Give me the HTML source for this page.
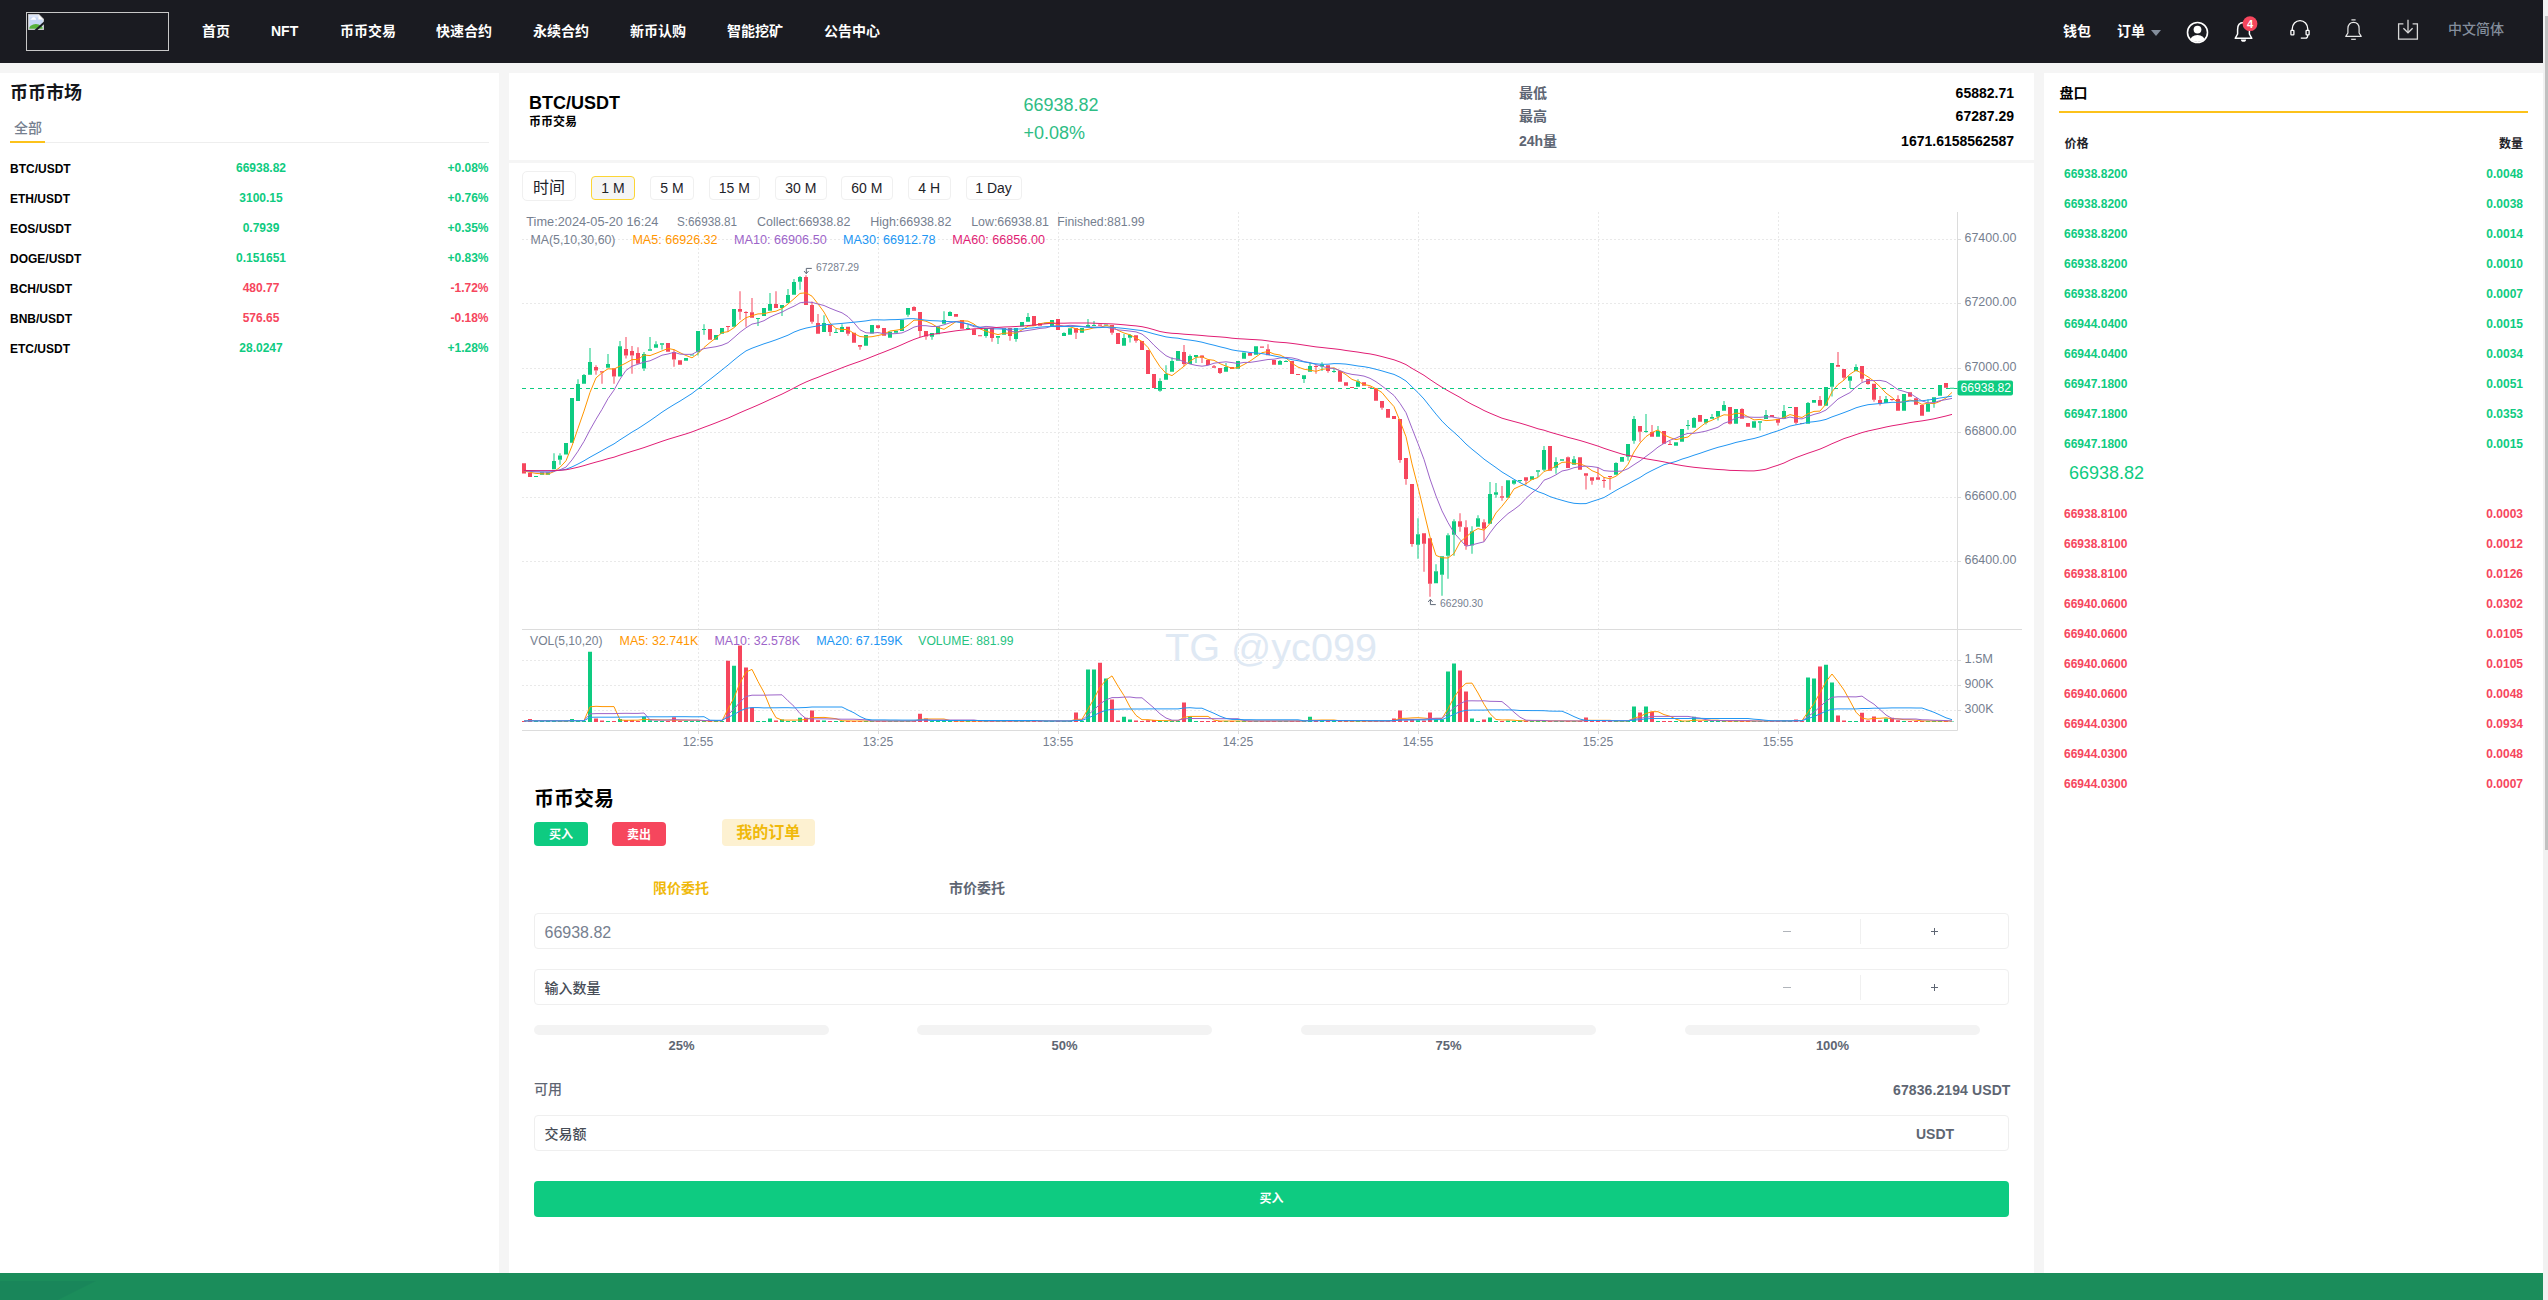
<!DOCTYPE html>
<html lang="zh-CN"><head><meta charset="utf-8"><title>BTC/USDT</title><style>
*{box-sizing:border-box;margin:0;padding:0}
html,body{width:2548px;height:1300px;overflow:hidden;background:#f5f5f5}
body{position:relative;font-family:"Liberation Sans","Noto Sans CJK SC",sans-serif;font-size:12px;color:#000}
.abs{position:absolute}
.t{position:absolute;white-space:nowrap;line-height:1}
.b{font-weight:bold}
.hdr{position:absolute;left:0;top:0;width:2543px;height:62.5px;background:#1a1b21}
.nav{position:absolute;top:24px;font-size:14px;font-weight:bold;color:#fff;white-space:nowrap;line-height:14px}
.panel{position:absolute;background:#fff}
.g{color:#0ecb81}.r{color:#f6465d}
.mk{position:absolute;left:0;width:499px;height:30px;font-size:12px;font-weight:bold;line-height:30px}
.mk span{position:absolute;top:0;white-space:nowrap}
.ob{position:absolute;left:2043px;width:500px;height:30px;font-size:12px;font-weight:bold;line-height:30px}
.ob span{position:absolute;top:0;white-space:nowrap}
.tb{position:absolute;top:176px;height:24px;border:1px solid #f0f0f0;border-radius:4px;font-size:12px;line-height:22px;text-align:center;color:#1e2329;background:#fff}
.inp{position:absolute;left:534px;width:1475px;height:36px;border:1px solid #efefef;border-radius:4px;background:#fff}
.bar{position:absolute;top:1025px;height:10px;width:295px;border-radius:5px;background:#f3f3f3}
.pct{position:absolute;top:1038.6px;width:295px;text-align:center;font-size:13px;font-weight:bold;color:#5e6673;line-height:14px}
</style></head><body>
<div class="hdr">
<div class="abs" style="left:26px;top:12px;width:143px;height:39px;border:1px solid #c8c8c8"></div>
<svg class="abs" style="left:28px;top:14px" width="16" height="16" viewBox="0 0 16 16"><defs><clipPath id="bi"><path d="M1.3 1.3H10.2V5.6H14.7V14.7H1.3z"/></clipPath></defs><path d="M0 0H11L16 5V16H0z" fill="#b9b9b9"/><path d="M0.8 0.8H10.6L15.2 5.4V15.2H0.8z" fill="#eef2fb"/><g clip-path="url(#bi)"><rect x="0" y="0" width="16" height="16" fill="#c6d6f4"/><rect x="0" y="0" width="16" height="3.4" fill="#dbe5f9"/><path d="M2.4 5.8Q2.4 4.6 3.8 4.6Q4.4 3 5.9 3.2Q7.4 3.2 7.6 4.6Q8.2 4.6 8.1 5.8z" fill="#fff"/><ellipse cx="7.9" cy="15.6" rx="7.4" ry="5.6" fill="#58b13a"/></g><path d="M10.5 0.6V5.4H15.3z" fill="#e9e9e9"/><path d="M10.9 1.6V5H14.3z" fill="#fff"/><path d="M6.9 17L17 8" stroke="#1a1b21" stroke-width="2"/></svg>
<div class="nav" style="left:202px">首页</div>
<div class="nav" style="left:271px">NFT</div>
<div class="nav" style="left:340px">币币交易</div>
<div class="nav" style="left:436px">快速合约</div>
<div class="nav" style="left:533px">永续合约</div>
<div class="nav" style="left:630px">新币认购</div>
<div class="nav" style="left:727px">智能挖矿</div>
<div class="nav" style="left:824px">公告中心</div>
<div class="nav" style="left:2063px">钱包</div>
<div class="nav" style="left:2117px">订单</div>
<div class="abs" style="left:2150.5px;top:29.5px;width:0;height:0;border-left:5px solid transparent;border-right:5px solid transparent;border-top:6.5px solid #848e9c"></div>
<svg class="abs" style="left:2186px;top:20.5px" width="23" height="23" viewBox="0 0 23 23"><defs><clipPath id="uc"><circle cx="11.5" cy="11.5" r="9.6"/></clipPath></defs><circle cx="11.5" cy="11.5" r="10" fill="none" stroke="#fff" stroke-width="1.6"/><circle cx="11.5" cy="8.6" r="3.9" fill="#fff"/><ellipse cx="11.5" cy="20.5" rx="7.6" ry="6.6" fill="#fff" clip-path="url(#uc)"/></svg>
<svg class="abs" style="left:2232px;top:14px" width="30" height="30" viewBox="0 0 30 30"><path d="M3.2 24.3 L5.6 20 V15.5 C5.6 11 8 8.6 11.5 8.6 C15 8.6 17.4 11 17.4 15.5 V20 L19.8 24.3 Z" fill="none" stroke="#fff" stroke-width="1.5" stroke-linejoin="round"/><path d="M8.9 25.4 H14.1 A2.6 2.4 0 0 1 8.9 25.4Z" fill="#fff"/><circle cx="18" cy="9.7" r="7.4" fill="#f6465d"/><text x="18" y="13.6" font-size="11" font-weight="bold" fill="#fff" text-anchor="middle" font-family="Liberation Sans, sans-serif">4</text></svg>
<svg class="abs" style="left:2288px;top:18px" width="24" height="24" viewBox="0 0 24 24" fill="none" stroke="#fff" stroke-width="1.3"><path d="M4.2 12.5 V11 A7.8 8.4 0 0 1 19.8 11 V12.5"/><rect x="2.9" y="12.3" width="3" height="4.6" rx="0.6"/><rect x="18.1" y="12.3" width="3" height="4.6" rx="0.6"/><path d="M19.6 17 V18 A2 2 0 0 1 17.6 20.2 H12.8" /></svg>
<svg class="abs" style="left:2341px;top:17px" width="25" height="25" viewBox="0 0 25 25" fill="none" stroke="#e8e8e8" stroke-width="1.2"><path d="M4.8 19.4 L6.9 16 V11.6 C6.9 7.6 9.3 5.4 12.5 5.4 C15.7 5.4 18.1 7.6 18.1 11.6 V16 L20.2 19.4 Z" stroke-linejoin="round"/><path d="M10.4 2.9 H14.6"/><path d="M10.2 22.3 H14.8"/></svg>
<svg class="abs" style="left:2395px;top:17px" width="26" height="26" viewBox="0 0 26 26" fill="none" stroke="#d8d8d8" stroke-width="1.3"><path d="M8.4 6.8 H3.6 V22.2 H22.4 V6.8 H17.6"/><path d="M13 2.8 V15.6"/><path d="M8.4 11.2 L13 15.8 L17.6 11.2"/></svg>
<div class="nav" style="left:2448px;top:21.5px;font-weight:500;color:#848e9c">中文简体</div>
</div>
<div class="panel" style="left:0;top:73px;width:499px;height:1200px"></div>
<div class="t" style="top:83.5px;font-size:18px;color:#14161a;height:18px;line-height:18px;font-weight:bold;left:10px;">币币市场</div>
<div class="t" style="top:120.8px;font-size:14px;color:#76808f;height:14px;line-height:14px;left:14px;font-weight:500;">全部</div>
<div class="abs" style="left:45px;top:142px;width:444px;height:1px;background:#eee"></div>
<div class="abs" style="left:10px;top:141px;width:35px;height:2px;background:#fcc21b"></div>
<div class="mk" style="top:153px"><span style="left:10px;top:0.5px">BTC/USDT</span><span class="g" style="left:161px;width:200px;text-align:center">66938.82</span><span class="g" style="right:10.5px">+0.08%</span></div>
<div class="mk" style="top:183px"><span style="left:10px;top:0.5px">ETH/USDT</span><span class="g" style="left:161px;width:200px;text-align:center">3100.15</span><span class="g" style="right:10.5px">+0.76%</span></div>
<div class="mk" style="top:213px"><span style="left:10px;top:0.5px">EOS/USDT</span><span class="g" style="left:161px;width:200px;text-align:center">0.7939</span><span class="g" style="right:10.5px">+0.35%</span></div>
<div class="mk" style="top:243px"><span style="left:10px;top:0.5px">DOGE/USDT</span><span class="g" style="left:161px;width:200px;text-align:center">0.151651</span><span class="g" style="right:10.5px">+0.83%</span></div>
<div class="mk" style="top:273px"><span style="left:10px;top:0.5px">BCH/USDT</span><span class="r" style="left:161px;width:200px;text-align:center">480.77</span><span class="r" style="right:10.5px">-1.72%</span></div>
<div class="mk" style="top:303px"><span style="left:10px;top:0.5px">BNB/USDT</span><span class="r" style="left:161px;width:200px;text-align:center">576.65</span><span class="r" style="right:10.5px">-0.18%</span></div>
<div class="mk" style="top:333px"><span style="left:10px;top:0.5px">ETC/USDT</span><span class="g" style="left:161px;width:200px;text-align:center">28.0247</span><span class="g" style="right:10.5px">+1.28%</span></div>
<div class="panel" style="left:509px;top:73px;width:1524.5px;height:87px"></div>
<div class="t" style="top:93.5px;font-size:18px;color:#000;height:18px;line-height:18px;font-weight:bold;left:529px;">BTC/USDT</div>
<div class="t" style="top:115.5px;font-size:12px;color:#000;height:12px;line-height:12px;font-weight:bold;left:529px;">币币交易</div>
<div class="t" style="top:95.5px;font-size:18px;color:#2ebd85;height:18px;line-height:18px;left:1023.5px;">66938.82</div>
<div class="t" style="top:123.5px;font-size:18px;color:#2ebd85;height:18px;line-height:18px;left:1023.5px;">+0.08%</div>
<div class="t" style="top:86.0px;font-size:14px;color:#5e6673;height:14px;line-height:14px;font-weight:bold;left:1519px;">最低</div>
<div class="t" style="top:86.0px;font-size:14px;color:#000;height:14px;line-height:14px;font-weight:bold;right:534px;">65882.71</div>
<div class="t" style="top:108.5px;font-size:14px;color:#5e6673;height:14px;line-height:14px;font-weight:bold;left:1519px;">最高</div>
<div class="t" style="top:108.5px;font-size:14px;color:#000;height:14px;line-height:14px;font-weight:bold;right:534px;">67287.29</div>
<div class="t" style="top:134.0px;font-size:14px;color:#5e6673;height:14px;line-height:14px;font-weight:bold;left:1519px;">24h量</div>
<div class="t" style="top:134.0px;font-size:14px;color:#000;height:14px;line-height:14px;font-weight:bold;right:534px;">1671.6158562587</div>
<div class="panel" style="left:509px;top:163px;width:1524.5px;height:1110px"></div>
<div class="tb" style="left:522px;top:171px;width:54px;height:30px;line-height:31px;font-size:16px;border-radius:5px">时间</div>
<div class="tb" style="left:591px;width:44px;font-size:14px;border-color:#fcd535;background:#f5f5f5;">1 M</div>
<div class="tb" style="left:650px;width:44px;font-size:14px;">5 M</div>
<div class="tb" style="left:709px;width:50.5px;font-size:14px;">15 M</div>
<div class="tb" style="left:775px;width:51.5px;font-size:14px;">30 M</div>
<div class="tb" style="left:841px;width:51.5px;font-size:14px;">60 M</div>
<div class="tb" style="left:908px;width:42.5px;font-size:14px;">4 H</div>
<div class="tb" style="left:965.5px;width:56px;font-size:14px;">1 Day</div>
<svg class="abs" style="left:509px;top:205px" width="1524" height="560" viewBox="509 205 1524 560" font-family="Liberation Sans, sans-serif">
<path d="M522 239.5H1957.5 M522 303.5H1957.5 M522 368.5H1957.5 M522 432.5H1957.5 M522 497.5H1957.5 M522 561.5H1957.5 M522 660.5H1957.5 M522 685.5H1957.5 M522 710.5H1957.5 M698.5 212V730 M878.5 212V730 M1058.5 212V730 M1238.5 212V730 M1418.5 212V730 M1598.5 212V730 M1778.5 212V730" stroke="#e9e9e9" stroke-width="1" stroke-dasharray="2 2" fill="none"/>
<path d="M522 629.5H2022 M522 730.5H1957.5 M1957.5 212V730.5" stroke="#dcdcdc" stroke-width="1" fill="none"/>
<path d="M698.5 730.5V734 M878.5 730.5V734 M1058.5 730.5V734 M1238.5 730.5V734 M1418.5 730.5V734 M1598.5 730.5V734 M1778.5 730.5V734 M1957.5 239.5h3.5 M1957.5 303.5h3.5 M1957.5 368.5h3.5 M1957.5 432.5h3.5 M1957.5 497.5h3.5 M1957.5 561.5h3.5 M1957.5 660.5h3.5 M1957.5 685.5h3.5 M1957.5 710.5h3.5" stroke="#dcdcdc" stroke-width="1" fill="none"/>
<text x="1165" y="661" font-size="39.5" fill="#dfe9f4" textLength="212" lengthAdjust="spacingAndGlyphs">TG @yc099</text>
<path d="M1933.5 402h1V407.8h-1zM1927.5 399.2h1V404h-1zM1885.5 396h1V399h-1zM1855.5 364.2h1V367h-1zM1849.5 380.8h1V388h-1zM1831.5 386.8h1V396.5h-1zM1807.5 402h1V403h-1zM1783.5 405h1V411h-1zM1765.5 410h1V415h-1zM1759.5 422.8h1V430.5h-1zM1723.5 401h1V405h-1zM1717.5 416.8h1V420.5h-1zM1711.5 414h1V417h-1zM1705.5 422.8h1V424.5h-1zM1693.5 417.2h1V418h-1zM1687.5 420h1V424.9h-1zM1687.5 425.9h1V429.8h-1zM1657.5 426h1V431h-1zM1645.5 414h1V431h-1zM1645.5 432h1V432.8h-1zM1633.5 416h1V419h-1zM1633.5 440.8h1V443.8h-1zM1627.5 456.8h1V460.8h-1zM1615.5 462.2h1V463h-1zM1573.5 456h1V459.2h-1zM1555.5 457.2h1V462h-1zM1555.5 467.8h1V473.8h-1zM1543.5 446h1V450h-1zM1543.5 469.8h1V471.2h-1zM1537.5 471.8h1V477.2h-1zM1519.5 481h1V482.8h-1zM1513.5 483.8h1V484.8h-1zM1495.5 483h1V492.2h-1zM1495.5 494.8h1V497.8h-1zM1489.5 482h1V494h-1zM1477.5 515.2h1V518.2h-1zM1471.5 526.2h1V531.2h-1zM1471.5 545.6h1V553.8h-1zM1453.5 519.2h1V521.2h-1zM1453.5 534.8h1V555.8h-1zM1447.5 533.2h1V535.2h-1zM1447.5 555.8h1V578.8h-1zM1441.5 574.8h1V595.8h-1zM1435.5 564.2h1V571.2h-1zM1417.5 518.2h1V534.2h-1zM1417.5 544.8h1V558.8h-1zM1357.5 379.2h1V381.2h-1zM1333.5 369h1V370.9h-1zM1333.5 371.9h1V372.8h-1zM1321.5 362.2h1V364.3h-1zM1321.5 366.6h1V370.9h-1zM1309.5 362.9h1V366h-1zM1303.5 378.9h1V382.9h-1zM1285.5 360.3h1V360.9h-1zM1279.5 360h1V361h-1zM1225.5 363.1h1V367.1h-1zM1195.5 356.9h1V362.9h-1zM1189.5 354.4h1V356h-1zM1171.5 357.2h1V361h-1zM1165.5 365.2h1V373.9h-1zM1159.5 378.2h1V381h-1zM1159.5 390.8h1V391.8h-1zM1129.5 334.1h1V334.9h-1zM1129.5 337.7h1V342.6h-1zM1123.5 334h1V338h-1zM1093.5 321h1V324.9h-1zM1087.5 319.1h1V325h-1zM1063.5 332.2h1V333h-1zM1027.5 313.1h1V317h-1zM1015.5 338.9h1V341.8h-1zM997.5 337.7h1V343.9h-1zM985.5 335.9h1V337.7h-1zM967.5 325h1V327.9h-1zM949.5 311.2h1V312h-1zM943.5 311.2h1V320h-1zM931.5 336.8h1V339.8h-1zM907.5 314.8h1V316.7h-1zM841.5 324.2h1V327h-1zM835.5 329.1h1V331.9h-1zM823.5 315.2h1V323h-1zM799.5 276.1h1V277.1h-1zM799.5 281.8h1V289.8h-1zM793.5 279.1h1V282h-1zM787.5 289.1h1V295h-1zM781.5 308h1V315.9h-1zM769.5 293.1h1V304.1h-1zM757.5 319h1V325.9h-1zM703.5 324.2h1V329.1h-1zM703.5 330.1h1V334.7h-1zM697.5 352h1V355.6h-1zM661.5 344.8h1V349.5h-1zM655.5 341.3h1V344.2h-1zM649.5 337.1h1V349.2h-1zM643.5 351.9h1V354h-1zM643.5 368.5h1V370.9h-1zM619.5 341h1V346.2h-1zM607.5 354h1V364.1h-1zM589.5 348h1V362h-1zM583.5 374h1V375h-1zM577.5 379.2h1V383.9h-1zM559.5 453.2h1V455.4h-1zM559.5 459.7h1V464.7h-1zM553.5 453.2h1V460.9h-1z" fill="#0ecb81"/>
<path d="M1897.5 395.2h1V399h-1zM1891.5 400h1V400.8h-1zM1879.5 396h1V400h-1zM1879.5 404h1V405.5h-1zM1873.5 399.8h1V401.8h-1zM1867.5 384h1V384.8h-1zM1861.5 378.8h1V381.8h-1zM1843.5 377.8h1V380h-1zM1837.5 352h1V365h-1zM1819.5 396h1V400h-1zM1795.5 422.8h1V424.8h-1zM1777.5 422.8h1V425.5h-1zM1741.5 408.2h1V409h-1zM1729.5 423.8h1V424.5h-1zM1669.5 441h1V443.9h-1zM1651.5 425h1V432h-1zM1639.5 431.8h1V441.8h-1zM1609.5 476.9h1V489.7h-1zM1603.5 477h1V479.9h-1zM1603.5 480.9h1V487.7h-1zM1597.5 467.2h1V477.2h-1zM1591.5 480.8h1V484.8h-1zM1585.5 475.8h1V489.6h-1zM1567.5 456.4h1V457.2h-1zM1525.5 480.8h1V484.4h-1zM1501.5 486h1V496.2h-1zM1501.5 497.8h1V500.8h-1zM1483.5 519.2h1V522.2h-1zM1483.5 528.8h1V541.6h-1zM1465.5 520.2h1V527.2h-1zM1465.5 545.8h1V549.8h-1zM1459.5 513.2h1V521.2h-1zM1459.5 526.8h1V531.8h-1zM1429.5 583.8h1V596.8h-1zM1423.5 543.8h1V571.8h-1zM1411.5 543.9h1V546.8h-1zM1405.5 478.9h1V484.7h-1zM1399.5 459.9h1V462.8h-1zM1381.5 407.7h1V409.8h-1zM1327.5 370.9h1V372.7h-1zM1315.5 365.2h1V365.9h-1zM1315.5 366.9h1V373.7h-1zM1267.5 344.3h1V349.2h-1zM1219.5 372.9h1V373.9h-1zM1213.5 365h1V366.2h-1zM1201.5 355h1V355.6h-1zM1201.5 357.7h1V362.9h-1zM1183.5 345h1V352h-1zM1183.5 364h1V366.2h-1zM1135.5 340.8h1V342.7h-1zM1111.5 332.8h1V334.7h-1zM1075.5 332.8h1V338.9h-1zM1009.5 335.9h1V340.8h-1zM991.5 337.9h1V341.8h-1zM925.5 336.6h1V339.8h-1zM919.5 330.9h1V336.9h-1zM913.5 306.3h1V307.1h-1zM877.5 327.9h1V328.7h-1zM859.5 346.8h1V349.8h-1zM847.5 333.8h1V335.7h-1zM829.5 331.9h1V335.9h-1zM817.5 314.1h1V323h-1zM811.5 301.4h1V305h-1zM811.5 321.8h1V323.7h-1zM805.5 275.2h1V277.1h-1zM775.5 291.2h1V304.1h-1zM751.5 298.1h1V312.2h-1zM745.5 311.2h1V311.9h-1zM745.5 312.9h1V326.8h-1zM739.5 291.2h1V309.1h-1zM739.5 311.7h1V319.7h-1zM727.5 327h1V331.9h-1zM673.5 349.5h1V351.9h-1zM673.5 359.6h1V366.7h-1zM637.5 347.2h1V353.1h-1zM631.5 346h1V351.1h-1zM631.5 355.5h1V373.8h-1zM625.5 337.1h1V349h-1zM625.5 355.5h1V358.4h-1zM613.5 376.6h1V383.7h-1zM601.5 372.4h1V383.7h-1zM595.5 365.3h1V367.1h-1zM595.5 370.6h1V374.8h-1z" fill="#f6465d"/>
<path d="M1950 387.8h4V388.8h-4zM1938 385h4V395.8h-4zM1932 397.2h4V402h-4zM1926 404h4V411.8h-4zM1902 394h4V410.8h-4zM1884 399h4V403h-4zM1854 367h4V371.2h-4zM1848 376.2h4V380.8h-4zM1830 363h4V386.8h-4zM1824 387h4V405.8h-4zM1812 400h4V402.8h-4zM1806 403h4V423.8h-4zM1788 406.9h4V407.9h-4zM1782 411h4V418.4h-4zM1764 415h4V419h-4zM1758 421.2h4V422.8h-4zM1752 421.2h4V427.8h-4zM1734 409h4V423.8h-4zM1722 405h4V410.8h-4zM1716 411h4V416.8h-4zM1710 417h4V418.8h-4zM1704 419h4V422.8h-4zM1692 418h4V427.8h-4zM1686 424.9h4V425.9h-4zM1680 429h4V441.8h-4zM1674 442.2h4V445.8h-4zM1656 431h4V436.8h-4zM1644 431h4V432h-4zM1632 419h4V440.8h-4zM1626 444h4V456.8h-4zM1620 457h4V461.8h-4zM1614 463h4V474.8h-4zM1572 459.2h4V464.8h-4zM1560 459.2h4V460.8h-4zM1554 462h4V467.8h-4zM1542 450h4V469.8h-4zM1536 470.2h4V471.8h-4zM1530 476.2h4V479.8h-4zM1518 480h4V481h-4zM1512 480.2h4V483.8h-4zM1506 480.2h4V497.8h-4zM1494 492.2h4V494.8h-4zM1488 494h4V523.8h-4zM1476 518.2h4V526.8h-4zM1470 531.2h4V545.6h-4zM1452 521.2h4V534.8h-4zM1446 535.2h4V555.8h-4zM1440 556.2h4V574.8h-4zM1434 571.2h4V583.2h-4zM1416 534.2h4V544.8h-4zM1356 381.2h4V386.7h-4zM1332 370.9h4V371.9h-4zM1320 364.3h4V366.6h-4zM1308 366h4V371.8h-4zM1302 375.3h4V378.9h-4zM1284 360.9h4V361.9h-4zM1278 361h4V364.7h-4zM1254 346.2h4V354.8h-4zM1242 352.5h4V358.8h-4zM1236 361h4V368.8h-4zM1224 367.1h4V371.8h-4zM1194 355h4V356.9h-4zM1188 356h4V364.1h-4zM1176 351.1h4V360.7h-4zM1170 361h4V371.8h-4zM1164 373.9h4V379.8h-4zM1158 381h4V390.8h-4zM1128 334.9h4V337.7h-4zM1122 338h4V345.8h-4zM1104 324.5h4V325.5h-4zM1092 324.9h4V325.9h-4zM1086 325h4V327h-4zM1080 327.9h4V332.8h-4zM1068 328.3h4V334.7h-4zM1062 333h4V335.9h-4zM1050 320h4V326.4h-4zM1044 322.8h4V323.8h-4zM1026 317h4V321.7h-4zM1020 322h4V326.4h-4zM1014 327.9h4V338.9h-4zM1002 327.9h4V334.7h-4zM996 335.9h4V337.7h-4zM984 327.9h4V335.9h-4zM966 327.9h4V328.9h-4zM948 312h4V315.9h-4zM942 320h4V323.8h-4zM936 326.2h4V334.2h-4zM930 333h4V336.8h-4zM906 308h4V314.8h-4zM900 319.8h4V330.9h-4zM894 330.8h4V332.8h-4zM888 331.7h4V337.8h-4zM870 324.9h4V333.4h-4zM864 335h4V345.8h-4zM840 327h4V331.9h-4zM834 331.9h4V332.9h-4zM822 323h4V331.9h-4zM798 277.1h4V281.8h-4zM792 282h4V294.8h-4zM786 295h4V303h-4zM780 305h4V308h-4zM768 304.1h4V310.8h-4zM762 308h4V315.9h-4zM756 318h4V319h-4zM732 309.1h4V326.8h-4zM720 327.9h4V333.8h-4zM714 335h4V339.7h-4zM702 329.1h4V330.1h-4zM696 331.1h4V352h-4zM690 354.6h4V355.6h-4zM684 358.1h4V360.8h-4zM660 343.3h4V344.8h-4zM654 344.2h4V347.8h-4zM648 349.2h4V350.7h-4zM642 354h4V368.5h-4zM618 346.2h4V376.6h-4zM606 364.1h4V367.7h-4zM588 362h4V374.8h-4zM582 375h4V383.7h-4zM576 383.9h4V400.9h-4zM570 398.1h4V442.8h-4zM564 443.1h4V454.6h-4zM558 455.4h4V459.7h-4zM552 460.9h4V469.2h-4zM546 472.2h4V474.8h-4zM540 472.2h4V474.8h-4zM534 475.9h4V476.9h-4zM1950 721.4h4V722h-4zM1938 721h4V722h-4zM1932 721h4V722h-4zM1926 721h4V722h-4zM1902 721h4V722h-4zM1884 718.6h4V722h-4zM1854 721h4V722h-4zM1848 721h4V722h-4zM1830 682.6h4V722h-4zM1824 664.8h4V722h-4zM1812 678.6h4V722h-4zM1806 677.6h4V722h-4zM1788 721h4V722h-4zM1782 720.6h4V722h-4zM1764 721h4V722h-4zM1758 721h4V722h-4zM1752 721h4V722h-4zM1734 721h4V722h-4zM1722 721h4V722h-4zM1716 721h4V722h-4zM1710 721h4V722h-4zM1704 721h4V722h-4zM1692 716.8h4V722h-4zM1686 721h4V722h-4zM1680 721h4V722h-4zM1674 721h4V722h-4zM1656 721h4V722h-4zM1644 706.6h4V722h-4zM1632 706.6h4V722h-4zM1626 721h4V722h-4zM1620 721h4V722h-4zM1614 721h4V722h-4zM1572 721h4V722h-4zM1560 721h4V722h-4zM1554 721h4V722h-4zM1542 721h4V722h-4zM1536 720.6h4V722h-4zM1530 721h4V722h-4zM1518 720.6h4V722h-4zM1512 721h4V722h-4zM1506 720.6h4V722h-4zM1494 721h4V722h-4zM1488 717.5h4V722h-4zM1476 721h4V722h-4zM1470 718.6h4V722h-4zM1452 663.5h4V722h-4zM1446 671.6h4V722h-4zM1440 719.6h4V722h-4zM1434 719.6h4V722h-4zM1416 720.3h4V722h-4zM1356 721h4V722h-4zM1332 721h4V722h-4zM1320 720h4V722h-4zM1308 716.8h4V722h-4zM1302 721h4V722h-4zM1284 721h4V722h-4zM1278 721h4V722h-4zM1254 721h4V722h-4zM1242 721h4V722h-4zM1236 721h4V722h-4zM1224 721h4V722h-4zM1194 721h4V722h-4zM1188 716.5h4V722h-4zM1176 721h4V722h-4zM1170 721h4V722h-4zM1164 721h4V722h-4zM1158 721h4V722h-4zM1128 719.6h4V722h-4zM1122 716.8h4V722h-4zM1104 678.6h4V722h-4zM1092 669.4h4V722h-4zM1086 669.4h4V722h-4zM1080 721h4V722h-4zM1068 721h4V722h-4zM1062 721h4V722h-4zM1050 721h4V722h-4zM1044 721h4V722h-4zM1026 721h4V722h-4zM1020 721h4V722h-4zM1014 720.6h4V722h-4zM1002 721h4V722h-4zM996 721h4V722h-4zM984 721h4V722h-4zM966 721h4V722h-4zM948 721h4V722h-4zM942 721h4V722h-4zM936 721h4V722h-4zM930 721h4V722h-4zM906 721h4V722h-4zM900 721h4V722h-4zM894 721h4V722h-4zM888 721h4V722h-4zM870 721h4V722h-4zM864 721h4V722h-4zM840 721h4V722h-4zM834 721h4V722h-4zM822 720.6h4V722h-4zM798 717.8h4V722h-4zM792 721h4V722h-4zM786 721h4V722h-4zM780 719.6h4V722h-4zM768 718.5h4V722h-4zM762 721h4V722h-4zM756 721h4V722h-4zM732 665.7h4V722h-4zM720 721h4V722h-4zM714 721h4V722h-4zM702 720.6h4V722h-4zM696 721h4V722h-4zM690 721h4V722h-4zM684 721h4V722h-4zM660 721h4V722h-4zM654 721h4V722h-4zM648 720.3h4V722h-4zM642 716.8h4V722h-4zM618 718.9h4V722h-4zM606 721h4V722h-4zM588 651.8h4V722h-4zM582 721h4V722h-4zM576 721h4V722h-4zM570 719h4V722h-4zM564 721h4V722h-4zM558 721h4V722h-4zM552 721h4V722h-4zM546 721h4V722h-4zM540 721h4V722h-4zM534 721h4V722h-4z" fill="#0ecb81"/>
<path d="M1944 383h4V387.8h-4zM1920 405h4V415.8h-4zM1914 398.3h4V404.8h-4zM1908 392.2h4V396.8h-4zM1896 399h4V410.8h-4zM1890 399h4V400h-4zM1878 400h4V404h-4zM1872 383.8h4V399.8h-4zM1866 379h4V384h-4zM1860 366h4V378.8h-4zM1842 369h4V377.8h-4zM1836 365h4V366.8h-4zM1818 400h4V405.8h-4zM1800 423h4V424h-4zM1794 407h4V422.8h-4zM1776 419h4V422.8h-4zM1770 415h4V417h-4zM1746 423h4V426.8h-4zM1740 409h4V418.8h-4zM1728 407h4V423.8h-4zM1698 415h4V421.8h-4zM1668 443.9h4V444.9h-4zM1662 431h4V443.8h-4zM1650 432h4V436.8h-4zM1638 426h4V431.8h-4zM1608 475.9h4V476.9h-4zM1602 479.9h4V480.9h-4zM1596 477.2h4V479.8h-4zM1590 477.2h4V480.8h-4zM1584 473.2h4V475.8h-4zM1578 457.2h4V469.8h-4zM1566 457.2h4V468h-4zM1548 446h4V470.8h-4zM1524 477.2h4V480.8h-4zM1500 496.2h4V497.8h-4zM1482 522.2h4V528.8h-4zM1464 527.2h4V545.8h-4zM1458 521.2h4V526.8h-4zM1428 538.2h4V583.8h-4zM1422 533.2h4V543.8h-4zM1410 484h4V543.9h-4zM1404 458h4V478.9h-4zM1398 419h4V459.9h-4zM1392 416h4V419h-4zM1386 409h4V417.8h-4zM1380 401h4V407.7h-4zM1374 388.3h4V400.7h-4zM1368 386.8h4V387.8h-4zM1362 382.2h4V385.7h-4zM1350 387h4V388h-4zM1344 382.2h4V385.7h-4zM1338 370.9h4V381.7h-4zM1326 365.2h4V370.9h-4zM1314 365.9h4V366.9h-4zM1296 373.9h4V374.9h-4zM1290 361h4V373.9h-4zM1272 360h4V364.7h-4zM1266 349.2h4V355.3h-4zM1260 346.6h4V347.8h-4zM1248 353h4V355.8h-4zM1230 367.1h4V369h-4zM1218 368h4V372.9h-4zM1212 366.2h4V367.8h-4zM1206 360h4V364.9h-4zM1200 355.6h4V357.7h-4zM1182 352h4V364h-4zM1152 373.9h4V388h-4zM1146 350h4V373.9h-4zM1140 340.9h4V349.9h-4zM1134 335.3h4V340.8h-4zM1116 333h4V343.9h-4zM1110 325h4V332.8h-4zM1098 324.6h4V325.7h-4zM1074 327.9h4V332.8h-4zM1056 319.1h4V329.9h-4zM1038 323.1h4V325.7h-4zM1032 316.1h4V326h-4zM1008 327.9h4V335.9h-4zM990 327.9h4V337.9h-4zM978 335.2h4V336.3h-4zM972 329.3h4V334.9h-4zM960 320h4V328.8h-4zM954 314h4V316.8h-4zM924 331.1h4V336.6h-4zM918 312.1h4V330.9h-4zM912 307.1h4V310.8h-4zM882 327.9h4V335.7h-4zM876 325.3h4V327.9h-4zM858 344.9h4V346.8h-4zM852 332.8h4V342.8h-4zM846 326.8h4V333.8h-4zM828 324.9h4V331.9h-4zM816 323h4V333.8h-4zM810 305h4V321.8h-4zM804 277.1h4V304.9h-4zM774 304.1h4V307.9h-4zM750 312.2h4V317.8h-4zM744 311.9h4V312.9h-4zM738 309.1h4V311.7h-4zM726 326h4V327h-4zM708 329.1h4V339.7h-4zM678 360.2h4V364.7h-4zM672 351.9h4V359.6h-4zM666 343h4V351.7h-4zM636 353.1h4V363.8h-4zM630 351.1h4V355.5h-4zM624 349h4V355.5h-4zM612 368.3h4V376.6h-4zM600 371.2h4V372.4h-4zM594 367.1h4V370.6h-4zM528 472.8h4V476.9h-4zM522 463.3h4V473.4h-4zM1944 721h4V722h-4zM1920 721h4V722h-4zM1914 721h4V722h-4zM1908 721h4V722h-4zM1896 720.3h4V722h-4zM1890 717.8h4V722h-4zM1878 720.6h4V722h-4zM1872 716.5h4V722h-4zM1866 720.6h4V722h-4zM1860 712.8h4V722h-4zM1842 720.6h4V722h-4zM1836 715.6h4V722h-4zM1818 666.6h4V722h-4zM1800 721h4V722h-4zM1794 719.6h4V722h-4zM1776 721h4V722h-4zM1770 721h4V722h-4zM1746 721h4V722h-4zM1740 721h4V722h-4zM1728 721h4V722h-4zM1698 721h4V722h-4zM1668 721h4V722h-4zM1662 721h4V722h-4zM1650 711.8h4V722h-4zM1638 712.5h4V722h-4zM1608 721h4V722h-4zM1602 721h4V722h-4zM1596 721h4V722h-4zM1590 721h4V722h-4zM1584 717.5h4V722h-4zM1578 721h4V722h-4zM1566 721h4V722h-4zM1548 721h4V722h-4zM1524 721h4V722h-4zM1500 721h4V722h-4zM1482 719.6h4V722h-4zM1464 691.6h4V722h-4zM1458 670.4h4V722h-4zM1428 712.5h4V722h-4zM1422 720.6h4V722h-4zM1410 718.9h4V722h-4zM1404 720.5h4V722h-4zM1398 710.4h4V722h-4zM1392 718.6h4V722h-4zM1386 721h4V722h-4zM1380 721h4V722h-4zM1374 721h4V722h-4zM1368 721h4V722h-4zM1362 721h4V722h-4zM1350 721h4V722h-4zM1344 721h4V722h-4zM1338 721h4V722h-4zM1326 721h4V722h-4zM1314 721h4V722h-4zM1296 721h4V722h-4zM1290 721h4V722h-4zM1272 721h4V722h-4zM1266 721h4V722h-4zM1260 721h4V722h-4zM1248 721h4V722h-4zM1230 721h4V722h-4zM1218 721h4V722h-4zM1212 721h4V722h-4zM1206 721h4V722h-4zM1200 721h4V722h-4zM1182 702.4h4V722h-4zM1152 720h4V722h-4zM1146 720.3h4V722h-4zM1140 721h4V722h-4zM1134 720.6h4V722h-4zM1116 720.6h4V722h-4zM1110 699.5h4V722h-4zM1098 662.7h4V722h-4zM1074 712.5h4V722h-4zM1056 721h4V722h-4zM1038 721h4V722h-4zM1032 720.6h4V722h-4zM1008 721h4V722h-4zM990 721h4V722h-4zM978 721h4V722h-4zM972 721h4V722h-4zM960 721h4V722h-4zM954 721h4V722h-4zM924 718.5h4V722h-4zM918 713.7h4V722h-4zM912 721h4V722h-4zM882 721h4V722h-4zM876 721h4V722h-4zM858 721h4V722h-4zM852 721h4V722h-4zM846 721h4V722h-4zM828 721h4V722h-4zM816 720.3h4V722h-4zM810 710.4h4V722h-4zM804 717.8h4V722h-4zM774 720.6h4V722h-4zM750 707.6h4V722h-4zM744 667.6h4V722h-4zM738 645.5h4V722h-4zM726 660.7h4V722h-4zM708 721h4V722h-4zM678 721h4V722h-4zM672 717.2h4V722h-4zM666 721h4V722h-4zM636 721h4V722h-4zM630 720h4V722h-4zM624 720h4V722h-4zM612 721h4V722h-4zM600 720.6h4V722h-4zM594 718.5h4V722h-4zM528 718.9h4V722h-4zM522 721h4V722h-4z" fill="#f6465d"/>
<polyline points="524,471 530,472.3 536,473.4 542,473.8 548,474.1 554,471.6 560,467.3 566,460.8 572,445.9 578,428.3 584,411.1 590,392.4 596,377.9 602,372.8 608,368.8 614,369.1 620,366 626,363 632,359.6 638,359.5 644,355 650,355.6 656,353.3 662,350.9 668,348.5 674,349.6 680,352.7 686,355.5 692,357.8 698,353.6 704,347.5 710,342.5 716,337.9 722,332.6 728,331.7 734,327.7 740,322.1 746,317.7 752,315.7 758,313.9 764,313.7 770,312.2 776,311.2 782,308.6 788,304 794,298.8 800,293.4 806,292.8 812,296.2 818,303.9 824,312.1 830,323.1 836,328.5 842,329.5 848,329.5 854,333.5 860,336.5 866,337.1 872,336.7 878,335.5 884,334.1 890,331 896,330.2 902,329.2 908,325.2 914,320.2 920,320.1 926,321.2 932,323.9 938,327.5 944,329.3 950,325.6 956,321.6 962,320.8 968,321.1 974,324.1 980,328.9 986,331.2 992,333 998,334.6 1004,333.2 1010,333.1 1016,333.1 1022,329.9 1028,326.1 1034,325.8 1040,323.7 1046,322.7 1052,322.3 1058,324.9 1064,326.3 1070,326.8 1076,328.8 1082,330.4 1088,329.4 1094,327.8 1100,327.3 1106,325.6 1112,326.6 1118,330.4 1124,333 1130,334.8 1136,338.1 1142,341.5 1148,347.5 1154,357.5 1160,366.7 1166,373.3 1172,375.6 1178,371 1184,366.2 1190,361.2 1196,357.4 1202,356.8 1208,359.5 1214,360.3 1220,363.7 1226,366.1 1232,368.3 1238,367.6 1244,364.5 1250,361.1 1256,356.9 1262,352.7 1268,351.5 1274,354 1280,355 1286,358 1292,363.2 1298,367.1 1304,369.2 1310,370.2 1316,371.3 1322,369.4 1328,368.6 1334,367.8 1340,370.9 1346,374.7 1352,379.4 1358,381.5 1364,384.5 1370,385.7 1376,388.7 1382,392.6 1388,399.9 1394,406.6 1400,421 1406,436.7 1412,463.9 1418,487.2 1424,512.1 1430,536.9 1436,555.4 1442,557.8 1448,558 1454,553.5 1460,542.1 1466,537 1472,532 1478,528.6 1484,530.2 1490,523.6 1496,512.9 1502,506.2 1508,498.6 1514,488.9 1520,486.1 1526,483.8 1532,479.5 1538,477.5 1544,471.5 1550,469.6 1556,465.8 1562,462.4 1568,462 1574,463.8 1580,463.6 1586,466.4 1592,470.7 1598,473.1 1604,477.4 1610,478.8 1616,476.2 1622,471.5 1628,464.3 1634,452 1640,443 1646,436.6 1652,432.5 1658,429.9 1664,434.9 1670,437.5 1676,439.7 1682,438.2 1688,437 1694,431.8 1700,427.2 1706,422.6 1712,420.2 1718,417.4 1724,414.8 1730,415.2 1736,413.2 1742,413.5 1748,416.7 1754,419.9 1760,419.4 1766,420.6 1772,420.2 1778,419.4 1784,417.4 1790,414.6 1796,416.1 1802,417.5 1808,413.6 1814,411.4 1820,411.1 1826,404 1832,391.8 1838,384.5 1844,380.1 1850,374.2 1856,370.2 1862,373.3 1868,376.8 1874,381.2 1880,386.7 1886,393.1 1892,397.4 1898,402.7 1904,401.6 1910,400.1 1916,401.3 1922,404.4 1928,403.1 1934,403.7 1940,401.4 1946,398 1952,392.4" fill="none" stroke="#ff9600" stroke-width="1" stroke-linejoin="round"/>
<polyline points="524,470.7 530,471.4 536,471.9 542,472.1 548,472.3 554,471.3 560,469.8 566,467.1 572,459.9 578,451.2 584,441.4 590,429.9 596,419.3 602,409.4 608,398.6 614,390.1 620,379.2 626,370.4 632,366.2 638,364.2 644,362.1 650,360.8 656,358.1 662,355.2 668,354 674,352.3 680,354.1 686,354.4 692,354.3 698,351.1 704,348.6 710,347.6 716,346.7 722,345.2 728,342.7 734,337.6 740,332.3 746,327.8 752,324.1 758,322.8 764,320.7 770,317.1 776,314.4 782,312.1 788,308.9 794,306.2 800,302.8 806,302 812,302.4 818,304 824,305.5 830,308.2 836,310.6 842,312.8 848,316.7 854,322.8 860,329.8 866,332.8 872,333.1 878,332.5 884,333.8 890,333.8 896,333.6 902,332.9 908,330.3 914,327.1 920,325.6 926,325.7 932,326.5 938,326.4 944,324.8 950,322.8 956,321.4 962,322.3 968,324.3 974,326.7 980,327.2 986,326.4 992,326.9 998,327.8 1004,328.6 1010,331 1016,332.1 1022,331.4 1028,330.4 1034,329.5 1040,328.4 1046,327.9 1052,326.1 1058,325.5 1064,326 1070,325.3 1076,325.8 1082,326.4 1088,327.1 1094,327.1 1100,327.1 1106,327.2 1112,328.5 1118,329.9 1124,330.4 1130,331.1 1136,331.9 1142,334.1 1148,338.9 1154,345.2 1160,350.8 1166,355.7 1172,358.5 1178,359.2 1184,361.9 1190,364 1196,365.4 1202,366.2 1208,365.3 1214,363.2 1220,362.4 1226,361.8 1232,362.6 1238,363.5 1244,362.4 1250,362.4 1256,361.5 1262,360.5 1268,359.5 1274,359.2 1280,358 1286,357.4 1292,357.9 1298,359.3 1304,361.6 1310,362.6 1316,364.6 1322,366.3 1328,367.9 1334,368.5 1340,370.6 1346,373 1352,374.4 1358,375.1 1364,376.1 1370,378.3 1376,381.7 1382,386 1388,390.7 1394,395.5 1400,403.4 1406,412.7 1412,428.3 1418,443.6 1424,459.4 1430,479 1436,496 1442,510.9 1448,522.6 1454,532.8 1460,539.5 1466,546.2 1472,544.9 1478,543.3 1484,541.8 1490,532.9 1496,525 1502,519.1 1508,513.6 1514,509.5 1520,504.9 1526,498.4 1532,492.9 1538,488.1 1544,480.2 1550,477.9 1556,474.8 1562,471 1568,469.8 1574,467.7 1580,466.6 1586,466.1 1592,466.6 1598,467.5 1604,470.6 1610,471.2 1616,471.3 1622,471.1 1628,468.7 1634,464.7 1640,460.9 1646,456.4 1652,452 1658,447.1 1664,443.4 1670,440.2 1676,438.1 1682,435.3 1688,433.4 1694,433.3 1700,432.3 1706,431.1 1712,429.2 1718,427.2 1724,423.3 1730,421.2 1736,417.9 1742,416.8 1748,417 1754,417.3 1760,417.3 1766,416.9 1772,416.9 1778,418.1 1784,418.7 1790,417 1796,418.4 1802,418.9 1808,416.5 1814,414.4 1820,412.8 1826,410 1832,404.6 1838,399 1844,395.7 1850,392.6 1856,387.1 1862,382.5 1868,380.6 1874,380.6 1880,380.4 1886,381.6 1892,385.3 1898,389.7 1904,391.4 1910,393.4 1916,397.2 1922,400.9 1928,402.9 1934,402.6 1940,400.7 1946,399.6 1952,398.4" fill="none" stroke="#9d65c9" stroke-width="1" stroke-linejoin="round"/>
<polyline points="524,470.5 530,470.7 536,470.9 542,471 548,471 554,470.7 560,470.2 566,469.3 572,466.9 578,464 584,460.8 590,457.2 596,453.9 602,450.6 608,447.1 614,443.9 620,439.8 626,436 632,432.1 638,428.6 644,424.7 650,420.7 656,416.5 662,412.2 668,408.3 674,404.6 680,401.1 686,397.3 692,393.5 698,388.8 704,384 710,379.4 716,374.7 722,369.9 728,365.1 734,360 740,355.2 746,350.9 752,348.2 758,346 764,343.8 770,341.9 776,339.8 782,337.5 788,335.2 794,332.1 800,329.8 806,328.1 812,326.9 818,325.9 824,324.9 830,324.3 836,323.9 842,323.4 848,322.8 854,322.2 860,321.6 866,320.9 872,319.9 878,319.8 884,320 890,319.7 896,319.6 902,319.3 908,318.7 914,318.7 920,319.4 926,320.2 932,320.7 938,320.9 944,321.3 950,321.6 956,321.9 962,322.7 968,323.8 974,325.6 980,327.5 986,328.3 992,328.8 998,328.9 1004,329.1 1010,329.2 1016,329.1 1022,328.9 1028,328.3 1034,327.8 1040,327.1 1046,326.7 1052,326.5 1058,326.6 1064,326.5 1070,326.4 1076,326.4 1082,326.7 1088,327.3 1094,327.7 1100,327.6 1106,327.2 1112,327.2 1118,327.8 1124,328.4 1130,329.1 1136,329.9 1142,330.6 1148,332.2 1154,333.9 1160,335.4 1166,336.9 1172,337.7 1178,338.2 1184,339.4 1190,340.1 1196,341 1202,342.2 1208,343.8 1214,345.2 1220,346.8 1226,348.2 1232,349.9 1238,350.9 1244,351.5 1250,352.5 1256,352.9 1262,353.6 1268,354.6 1274,355.9 1280,357.1 1286,358.3 1292,359.7 1298,360.7 1304,361.9 1310,363 1316,363.8 1322,364.3 1328,364.2 1334,363.6 1340,363.7 1346,364.1 1352,365 1358,366 1364,366.7 1370,367.8 1376,369.3 1382,370.9 1388,372.7 1394,374.4 1400,377.3 1406,381 1412,386.9 1418,392.6 1424,399 1430,406.6 1436,414.1 1442,421.1 1448,427.1 1454,432.3 1460,437.8 1466,444 1472,449.2 1478,454 1484,459.1 1490,463.4 1496,467.6 1502,472 1508,475.6 1514,479.3 1520,482.6 1526,485.7 1532,488.7 1538,491.7 1544,493.8 1550,496.6 1556,498.6 1562,500.3 1568,502 1574,503.3 1580,503.7 1586,503.6 1592,501.5 1598,499.6 1604,497.5 1610,494 1616,490.4 1622,487.1 1628,484 1634,480.6 1640,477.5 1646,473.6 1652,470.5 1658,467.6 1664,464.7 1670,463.1 1676,461.4 1682,459.1 1688,457.3 1694,455.2 1700,453.3 1706,451.2 1712,449.2 1718,447.3 1724,445.8 1730,444.2 1736,442.4 1742,441.1 1748,439.7 1754,438.5 1760,436.8 1766,434.8 1772,432.7 1778,430.8 1784,428.5 1790,426.1 1796,424.8 1802,423.7 1808,422.3 1814,421.7 1820,420.8 1826,419.4 1832,416.9 1838,414.8 1844,412.6 1850,410.3 1856,407.8 1862,406.1 1868,404.7 1874,404.1 1880,403.5 1886,402.9 1892,402.3 1898,402.3 1904,401.9 1910,401 1916,400.9 1922,400.8 1928,400 1934,399.2 1940,398 1946,397.1 1952,396.1" fill="none" stroke="#2196f3" stroke-width="1" stroke-linejoin="round"/>
<polyline points="524,470.4 530,470.6 536,470.7 542,470.7 548,470.7 554,470.6 560,470.3 566,469.8 572,468.6 578,467.2 584,465.6 590,463.8 596,462.1 602,460.5 608,458.7 614,457.2 620,455.1 626,453.2 632,451.3 638,449.5 644,447.6 650,445.5 656,443.4 662,441.3 668,439.3 674,437.5 680,435.7 686,433.9 692,431.9 698,429.6 704,427.3 710,425.1 716,422.8 722,420.4 728,418.1 734,415.4 740,412.7 746,410.1 752,407.6 758,405 764,402.3 770,399.5 776,396.8 782,394.1 788,391.1 794,388 800,384.8 806,382 812,379.5 818,377.3 824,374.8 830,372.5 836,370.2 842,367.8 848,365.5 854,363.4 860,361.3 866,359.1 872,356.7 878,354.3 884,352 890,349.6 896,347.2 902,344.6 908,341.9 914,339.4 920,337.3 926,335.5 932,334.4 938,333.5 944,332.6 950,331.7 956,330.8 962,330.1 968,329.5 974,328.8 980,328.6 986,328.2 992,327.9 998,327.4 1004,327 1010,326.8 1016,326.5 1022,326.1 1028,325.6 1034,325 1040,324.4 1046,323.8 1052,323.2 1058,323.2 1064,323.2 1070,323 1076,323 1082,323 1088,323 1094,323.2 1100,323.5 1106,323.7 1112,323.9 1118,324.3 1124,324.8 1130,325.4 1136,325.9 1142,326.7 1148,328 1154,329.7 1160,331.5 1166,332.6 1172,333.3 1178,333.6 1184,334.2 1190,334.6 1196,335 1202,335.5 1208,336.1 1214,336.5 1220,336.9 1226,337.4 1232,338.2 1238,338.7 1244,339 1250,339.4 1256,339.7 1262,340.1 1268,340.9 1274,341.8 1280,342.3 1286,342.7 1292,343.4 1298,344.2 1304,345.1 1310,346 1316,346.9 1322,347.5 1328,348.2 1334,348.8 1340,349.5 1346,350.5 1352,351.3 1358,352.1 1364,353.1 1370,353.9 1376,355.1 1382,356.6 1388,358.2 1394,359.8 1400,362 1406,364.6 1412,368.4 1418,371.8 1424,375.3 1430,379.5 1436,383.5 1442,387.3 1448,390.8 1454,394.1 1460,397.4 1466,401.1 1472,404.4 1478,407.3 1484,410.5 1490,413.2 1496,415.7 1502,418.2 1508,419.9 1514,421.5 1520,423.1 1526,424.9 1532,426.8 1538,428.8 1544,430.2 1550,432.2 1556,433.9 1562,435.6 1568,437.4 1574,438.9 1580,440.5 1586,442.3 1592,444.2 1598,446.1 1604,448.3 1610,450.3 1616,452.2 1622,454.1 1628,455.5 1634,456.4 1640,457.6 1646,458.8 1652,459.8 1658,460.8 1664,461.9 1670,463.2 1676,464.5 1682,465.6 1688,466.5 1694,467.3 1700,467.9 1706,468.5 1712,469 1718,469.5 1724,469.8 1730,470.4 1736,470.5 1742,470.7 1748,470.9 1754,470.9 1760,470.2 1766,469.2 1772,467.1 1778,465.2 1784,463 1790,460.1 1796,457.6 1802,455.4 1808,453.2 1814,451.2 1820,449.1 1826,446.5 1832,443.7 1838,441.2 1844,438.6 1850,436.7 1856,434.6 1862,432.6 1868,431 1874,429.7 1880,428.4 1886,427 1892,425.8 1898,424.8 1904,423.8 1910,422.6 1916,421.7 1922,420.9 1928,419.9 1934,418.8 1940,417.4 1946,416 1952,414.4" fill="none" stroke="#e11d74" stroke-width="1" stroke-linejoin="round"/>
<polyline points="524,721 530,720.6 536,720.6 542,720.6 548,720.6 554,720.6 560,721 566,721 572,720.6 578,720.6 584,720.6 590,706.8 596,706.3 602,706.6 608,706.6 614,706.6 620,720 626,720.3 632,720.2 638,720.2 644,719.3 650,719.6 656,719.8 662,720 668,720 674,720.1 680,720.2 686,720.2 692,720.2 698,720.2 704,720.9 710,720.9 716,720.9 722,720.9 728,708.9 734,697.9 740,682.8 746,672.1 752,669.4 758,681.5 764,692.5 770,707.1 776,717.7 782,720.1 788,720.1 794,720.1 800,720 806,719.4 812,717.6 818,717.5 824,717.4 830,718 836,718.7 842,720.8 848,720.9 854,721 860,721 866,721 872,721 878,721 884,721 890,721 896,721 902,721 908,721 914,721 920,719.5 926,719 932,719 938,719 944,719 950,720.5 956,721 962,721 968,721 974,721 980,721 986,721 992,721 998,721 1004,721 1010,721 1016,720.9 1022,720.9 1028,720.9 1034,720.8 1040,720.8 1046,720.9 1052,720.9 1058,720.9 1064,721 1070,721 1076,719.3 1082,719.3 1088,709 1094,698.7 1100,687 1106,680.2 1112,675.9 1118,686.2 1124,695.6 1130,707 1136,715.4 1142,719.7 1148,719.7 1154,720.3 1160,720.6 1166,720.7 1172,720.7 1178,720.8 1184,717.3 1190,716.4 1196,716.4 1202,716.4 1208,716.4 1214,720.1 1220,721 1226,721 1232,721 1238,721 1244,721 1250,721 1256,721 1262,721 1268,721 1274,721 1280,721 1286,721 1292,721 1298,721 1304,721 1310,720.2 1316,720.2 1322,720 1328,720 1334,720 1340,720.8 1346,720.8 1352,721 1358,721 1364,721 1370,721 1376,721 1382,721 1388,721 1394,720.5 1400,718.4 1406,718.3 1412,717.9 1418,717.7 1424,718.1 1430,718.6 1436,718.4 1442,718.5 1448,708.8 1454,697.4 1460,688.9 1466,683.3 1472,683.1 1478,693 1484,704.2 1490,713.7 1496,719.5 1502,720 1508,719.9 1514,720.2 1520,720.8 1526,720.8 1532,720.8 1538,720.8 1544,720.8 1550,720.9 1556,720.9 1562,720.9 1568,721 1574,721 1580,721 1586,720.3 1592,720.3 1598,720.3 1604,720.3 1610,720.3 1616,721 1622,721 1628,721 1634,718.1 1640,716.4 1646,713.5 1652,711.7 1658,711.7 1664,714.6 1670,716.3 1676,719.2 1682,721 1688,721 1694,720.2 1700,720.2 1706,720.2 1712,720.2 1718,720.2 1724,721 1730,721 1736,721 1742,721 1748,721 1754,721 1760,721 1766,721 1772,721 1778,721 1784,720.9 1790,720.9 1796,720.6 1802,720.6 1808,712 1814,703.6 1820,692.7 1826,681.7 1832,674 1838,681.6 1844,690 1850,700.9 1856,712.2 1862,718.2 1868,719.2 1874,718.4 1880,718.3 1886,717.8 1892,718.8 1898,718.8 1904,719.7 1910,719.7 1916,720.2 1922,720.9 1928,721 1934,721 1940,721 1946,721 1952,721.1" fill="none" stroke="#ff9600" stroke-width="1" stroke-linejoin="round"/>
<polyline points="524,721 530,720.8 536,720.8 542,720.8 548,720.8 554,720.8 560,720.8 566,720.8 572,720.6 578,720.6 584,720.6 590,713.9 596,713.6 602,713.6 608,713.6 614,713.6 620,713.4 626,713.3 632,713.4 638,713.4 644,713 650,719.8 656,720.1 662,720.1 668,720.1 674,719.7 680,719.9 686,720 692,720.1 698,720.1 704,720.5 710,720.6 716,720.6 722,720.6 728,714.5 734,709.4 740,701.9 746,696.5 752,695.2 758,695.2 764,695.2 770,695 776,694.9 782,694.8 788,700.8 794,706.3 800,713.6 806,718.6 812,718.9 818,718.8 824,718.8 830,719 836,719 842,719.2 848,719.2 854,719.2 860,719.5 866,719.8 872,720.9 878,721 884,721 890,721 896,721 902,721 908,721 914,721 920,720.3 926,720 932,720 938,720 944,720 950,720 956,720 962,720 968,720 974,720 980,720.8 986,721 992,721 998,721 1004,721 1010,721 1016,721 1022,721 1028,721 1034,720.9 1040,720.9 1046,720.9 1052,720.9 1058,720.9 1064,720.9 1070,720.9 1076,720.1 1082,720.1 1088,715 1094,709.8 1100,704 1106,699.8 1112,697.6 1118,697.6 1124,697.1 1130,697 1136,697.8 1142,697.8 1148,702.9 1154,708 1160,713.8 1166,718 1172,720.2 1178,720.2 1184,718.8 1190,718.5 1196,718.5 1202,718.5 1208,718.6 1214,718.7 1220,718.7 1226,718.7 1232,718.7 1238,718.7 1244,720.5 1250,721 1256,721 1262,721 1268,721 1274,721 1280,721 1286,721 1292,721 1298,721 1304,721 1310,720.6 1316,720.6 1322,720.5 1328,720.5 1334,720.5 1340,720.5 1346,720.5 1352,720.5 1358,720.5 1364,720.5 1370,720.9 1376,720.9 1382,721 1388,721 1394,720.8 1400,719.7 1406,719.6 1412,719.4 1418,719.4 1424,719.3 1430,718.5 1436,718.3 1442,718.2 1448,713.3 1454,707.8 1460,703.8 1466,700.9 1472,700.8 1478,700.9 1484,700.8 1490,701.3 1496,701.4 1502,701.6 1508,706.5 1514,712.2 1520,717.2 1526,720.2 1532,720.4 1538,720.4 1544,720.5 1550,720.9 1556,720.9 1562,720.9 1568,720.9 1574,720.9 1580,721 1586,720.6 1592,720.6 1598,720.6 1604,720.6 1610,720.6 1616,720.6 1622,720.6 1628,720.6 1634,719.2 1640,718.4 1646,717.3 1652,716.4 1658,716.4 1664,716.4 1670,716.4 1676,716.4 1682,716.4 1688,716.4 1694,717.4 1700,718.2 1706,719.7 1712,720.6 1718,720.6 1724,720.6 1730,720.6 1736,720.6 1742,720.6 1748,720.6 1754,721 1760,721 1766,721 1772,721 1778,721 1784,721 1790,721 1796,720.8 1802,720.8 1808,716.5 1814,712.2 1820,706.8 1826,701.2 1832,697.3 1838,696.8 1844,696.8 1850,696.8 1856,696.9 1862,696.1 1868,700.4 1874,704.2 1880,709.6 1886,715 1892,718.5 1898,719 1904,719 1910,719 1916,719 1922,719.8 1928,719.9 1934,720.3 1940,720.4 1946,720.6 1952,721" fill="none" stroke="#9d65c9" stroke-width="1" stroke-linejoin="round"/>
<polyline points="524,721 530,720.9 536,720.9 542,720.9 548,720.9 554,720.9 560,720.9 566,720.9 572,720.8 578,720.8 584,720.8 590,717.3 596,717.2 602,717.2 608,717.2 614,717.2 620,717.1 626,717 632,717 638,717 644,716.8 650,716.8 656,716.8 662,716.8 668,716.8 674,716.7 680,716.7 686,716.7 692,716.8 698,716.8 704,716.7 710,720.2 716,720.3 722,720.3 728,717.3 734,714.6 740,710.9 746,708.3 752,707.6 758,707.6 764,707.9 770,707.8 776,707.8 782,707.7 788,707.7 794,707.9 800,707.7 806,707.5 812,707 818,707 824,707 830,707 836,707 842,707 848,710 854,712.8 860,716.5 866,719.2 872,719.9 878,719.9 884,719.9 890,720 896,720 902,720.1 908,720.1 914,720.1 920,719.9 926,719.9 932,720.5 938,720.5 944,720.5 950,720.5 956,720.5 962,720.5 968,720.5 974,720.5 980,720.5 986,720.5 992,720.5 998,720.5 1004,720.5 1010,720.5 1016,720.5 1022,720.5 1028,720.5 1034,720.5 1040,720.8 1046,721 1052,721 1058,721 1064,721 1070,721 1076,720.5 1082,720.5 1088,718 1094,715.4 1100,712.5 1106,710.3 1112,709.3 1118,709.2 1124,709 1130,709 1136,709 1142,709 1148,708.9 1154,708.9 1160,708.9 1166,708.9 1172,708.9 1178,708.9 1184,708 1190,707.7 1196,708.2 1202,708.2 1208,710.8 1214,713.3 1220,716.2 1226,718.4 1232,719.4 1238,719.5 1244,719.7 1250,719.7 1256,719.8 1262,719.8 1268,719.8 1274,719.8 1280,719.8 1286,719.8 1292,719.8 1298,719.8 1304,720.8 1310,720.8 1316,720.8 1322,720.7 1328,720.7 1334,720.7 1340,720.7 1346,720.7 1352,720.7 1358,720.7 1364,720.7 1370,720.7 1376,720.7 1382,720.7 1388,720.7 1394,720.6 1400,720.1 1406,720.1 1412,720 1418,719.9 1424,719.9 1430,719.7 1436,719.6 1442,719.6 1448,717.1 1454,714.3 1460,711.7 1466,710.3 1472,710.1 1478,710.1 1484,710.1 1490,709.9 1496,709.9 1502,709.9 1508,709.9 1514,710 1520,710.5 1526,710.5 1532,710.6 1538,710.6 1544,710.7 1550,711.1 1556,711.2 1562,711.2 1568,713.7 1574,716.6 1580,719.1 1586,720.4 1592,720.5 1598,720.5 1604,720.6 1610,720.8 1616,720.8 1622,720.8 1628,720.8 1634,720.1 1640,719.7 1646,718.9 1652,718.5 1658,718.5 1664,718.5 1670,718.5 1676,718.5 1682,718.5 1688,718.5 1694,718.3 1700,718.3 1706,718.5 1712,718.5 1718,718.5 1724,718.5 1730,718.5 1736,718.5 1742,718.5 1748,718.5 1754,719.2 1760,719.6 1766,720.3 1772,720.8 1778,720.8 1784,720.8 1790,720.8 1796,720.7 1802,720.7 1808,718.5 1814,716.6 1820,713.9 1826,711.1 1832,709.2 1838,708.9 1844,708.9 1850,708.9 1856,708.9 1862,708.5 1868,708.5 1874,708.2 1880,708.2 1886,708.1 1892,707.9 1898,707.9 1904,707.9 1910,707.9 1916,708 1922,708 1928,710.1 1934,712.3 1940,715 1946,717.8 1952,719.7" fill="none" stroke="#2196f3" stroke-width="1" stroke-linejoin="round"/>
<path d="M522 388.5H1957.5" stroke="#0ecb81" stroke-width="1" stroke-dasharray="4 4" fill="none"/>
<rect x="1957.5" y="380.4" width="55.5" height="15.2" rx="2" fill="#0ecb81"/>
<text x="1960.5" y="391.5" font-size="12" fill="#fff" text-anchor="start" textLength="50.5" lengthAdjust="spacingAndGlyphs">66938.82</text>
<text x="1964.5" y="242.0" font-size="12" fill="#76808f" text-anchor="start" textLength="52" lengthAdjust="spacingAndGlyphs">67400.00</text>
<text x="1964.5" y="306.0" font-size="12" fill="#76808f" text-anchor="start" textLength="52" lengthAdjust="spacingAndGlyphs">67200.00</text>
<text x="1964.5" y="371.0" font-size="12" fill="#76808f" text-anchor="start" textLength="52" lengthAdjust="spacingAndGlyphs">67000.00</text>
<text x="1964.5" y="435.0" font-size="12" fill="#76808f" text-anchor="start" textLength="52" lengthAdjust="spacingAndGlyphs">66800.00</text>
<text x="1964.5" y="500.0" font-size="12" fill="#76808f" text-anchor="start" textLength="52" lengthAdjust="spacingAndGlyphs">66600.00</text>
<text x="1964.5" y="564.0" font-size="12" fill="#76808f" text-anchor="start" textLength="52" lengthAdjust="spacingAndGlyphs">66400.00</text>
<text x="1964.5" y="663.2" font-size="12" fill="#76808f" text-anchor="start" textLength="28.5" lengthAdjust="spacingAndGlyphs">1.5M</text>
<text x="1964.5" y="688.2" font-size="12" fill="#76808f" text-anchor="start" textLength="29" lengthAdjust="spacingAndGlyphs">900K</text>
<text x="1964.5" y="713.2" font-size="12" fill="#76808f" text-anchor="start" textLength="29" lengthAdjust="spacingAndGlyphs">300K</text>
<text x="698" y="746" font-size="12" fill="#76808f" text-anchor="middle" textLength="30.5" lengthAdjust="spacingAndGlyphs">12:55</text>
<text x="878" y="746" font-size="12" fill="#76808f" text-anchor="middle" textLength="30.5" lengthAdjust="spacingAndGlyphs">13:25</text>
<text x="1058" y="746" font-size="12" fill="#76808f" text-anchor="middle" textLength="30.5" lengthAdjust="spacingAndGlyphs">13:55</text>
<text x="1238" y="746" font-size="12" fill="#76808f" text-anchor="middle" textLength="30.5" lengthAdjust="spacingAndGlyphs">14:25</text>
<text x="1418" y="746" font-size="12" fill="#76808f" text-anchor="middle" textLength="30.5" lengthAdjust="spacingAndGlyphs">14:55</text>
<text x="1598" y="746" font-size="12" fill="#76808f" text-anchor="middle" textLength="30.5" lengthAdjust="spacingAndGlyphs">15:25</text>
<text x="1778" y="746" font-size="12" fill="#76808f" text-anchor="middle" textLength="30.5" lengthAdjust="spacingAndGlyphs">15:55</text>
<text x="526.3" y="225.8" font-size="12" fill="#76808f" text-anchor="start" textLength="132.1" lengthAdjust="spacingAndGlyphs">Time:2024-05-20 16:24</text>
<text x="677" y="225.8" font-size="12" fill="#76808f" text-anchor="start" textLength="60" lengthAdjust="spacingAndGlyphs">S:66938.81</text>
<text x="757" y="225.8" font-size="12" fill="#76808f" text-anchor="start" textLength="93.4" lengthAdjust="spacingAndGlyphs">Collect:66938.82</text>
<text x="870.2" y="225.8" font-size="12" fill="#76808f" text-anchor="start" textLength="81.2" lengthAdjust="spacingAndGlyphs">High:66938.82</text>
<text x="971.2" y="225.8" font-size="12" fill="#76808f" text-anchor="start" textLength="77.8" lengthAdjust="spacingAndGlyphs">Low:66938.81</text>
<text x="1057.3" y="225.8" font-size="12" fill="#76808f" text-anchor="start" textLength="87.3" lengthAdjust="spacingAndGlyphs">Finished:881.99</text>
<text x="530.4" y="243.8" font-size="12" fill="#76808f" text-anchor="start" textLength="85.1" lengthAdjust="spacingAndGlyphs">MA(5,10,30,60)</text>
<text x="632.4" y="243.8" font-size="12" fill="#ff9600" text-anchor="start" textLength="85.2" lengthAdjust="spacingAndGlyphs">MA5: 66926.32</text>
<text x="734" y="243.8" font-size="12" fill="#9d65c9" text-anchor="start" textLength="92.7" lengthAdjust="spacingAndGlyphs">MA10: 66906.50</text>
<text x="843" y="243.8" font-size="12" fill="#2196f3" text-anchor="start" textLength="92.5" lengthAdjust="spacingAndGlyphs">MA30: 66912.78</text>
<text x="952.2" y="243.8" font-size="12" fill="#e11d74" text-anchor="start" textLength="92.8" lengthAdjust="spacingAndGlyphs">MA60: 66856.00</text>
<text x="530.1" y="645" font-size="12" fill="#76808f" text-anchor="start" textLength="72.4" lengthAdjust="spacingAndGlyphs">VOL(5,10,20)</text>
<text x="619.6" y="645" font-size="12" fill="#ff9600" text-anchor="start" textLength="78.7" lengthAdjust="spacingAndGlyphs">MA5: 32.741K</text>
<text x="714.5" y="645" font-size="12" fill="#9d65c9" text-anchor="start" textLength="85.5" lengthAdjust="spacingAndGlyphs">MA10: 32.578K</text>
<text x="816.2" y="645" font-size="12" fill="#2196f3" text-anchor="start" textLength="86.3" lengthAdjust="spacingAndGlyphs">MA20: 67.159K</text>
<text x="918.3" y="645" font-size="12" fill="#26c281" text-anchor="start" textLength="95.1" lengthAdjust="spacingAndGlyphs">VOLUME: 881.99</text>
<path d="M806.3 273.6V268.4H811.8 M804.1 271.1l2.2 2.6l2.2-2.6" stroke="#5e6877" stroke-width="1" fill="none"/>
<text x="816" y="271" font-size="11" fill="#76808f" text-anchor="start" textLength="43" lengthAdjust="spacingAndGlyphs">67287.29</text>
<path d="M1430.4 599.4V604.6H1435.8 M1428.2 601.9l2.2-2.6l2.2 2.6" stroke="#5e6877" stroke-width="1" fill="none"/>
<text x="1440" y="607" font-size="11" fill="#76808f" text-anchor="start" textLength="43" lengthAdjust="spacingAndGlyphs">66290.30</text>
</svg>
<div class="t" style="top:788.5px;font-size:20px;color:#000;height:20px;line-height:20px;font-weight:bold;left:534px;">币币交易</div>
<div class="abs" style="left:534px;top:822px;width:54px;height:24px;border-radius:4px;background:#0ecb81;color:#fff;font-weight:bold;font-size:12px;line-height:26px;text-align:center">买入</div>
<div class="abs" style="left:612px;top:822px;width:54px;height:24px;border-radius:4px;background:#f6465d;color:#fff;font-weight:bold;font-size:12px;line-height:26px;text-align:center">卖出</div>
<div class="abs" style="left:721.5px;top:819px;width:93.5px;height:27px;border-radius:4px;background:#fdf1d1;color:#f0b90b;font-weight:bold;font-size:16px;line-height:28px;text-align:center">我的订单</div>
<div class="t" style="top:881.0px;font-size:14px;color:#f0b90b;height:14px;line-height:14px;font-weight:bold;left:653px;">限价委托</div>
<div class="t" style="top:881.0px;font-size:14px;color:#5e6673;height:14px;line-height:14px;font-weight:bold;left:949px;">市价委托</div>
<div class="inp" style="top:913px"></div>
<div class="abs" style="left:1860px;top:919px;width:1px;height:25px;background:#f0f0f0"></div>
<div class="abs" style="left:1783px;top:931px;width:8px;height:1px;background:#b0b4ba"></div>
<div class="abs" style="left:1931px;top:931px;width:7px;height:1px;background:#5e6673"></div>
<div class="abs" style="left:1934px;top:928px;width:1px;height:7px;background:#5e6673"></div>
<div class="inp" style="top:969px"></div>
<div class="abs" style="left:1860px;top:975px;width:1px;height:25px;background:#f0f0f0"></div>
<div class="abs" style="left:1783px;top:987px;width:8px;height:1px;background:#b0b4ba"></div>
<div class="abs" style="left:1931px;top:987px;width:7px;height:1px;background:#5e6673"></div>
<div class="abs" style="left:1934px;top:984px;width:1px;height:7px;background:#5e6673"></div>
<div class="t" style="top:925.0px;font-size:16px;color:#76808f;height:16px;line-height:16px;left:544.5px;">66938.82</div>
<div class="t" style="top:981.3px;font-size:14px;color:#474d57;height:14px;line-height:14px;left:544.5px;font-weight:500;">输入数量</div>
<div class="bar" style="left:534px"></div>
<div class="pct" style="left:534px">25%</div>
<div class="bar" style="left:917px"></div>
<div class="pct" style="left:917px">50%</div>
<div class="bar" style="left:1301px"></div>
<div class="pct" style="left:1301px">75%</div>
<div class="bar" style="left:1685px"></div>
<div class="pct" style="left:1685px">100%</div>
<div class="t" style="top:1082.4px;font-size:14px;color:#5e6673;height:14px;line-height:14px;left:534px;font-weight:500;">可用</div>
<div class="t" style="top:1083.0px;font-size:14px;color:#5e6673;height:14px;line-height:14px;font-weight:bold;right:537.5px;letter-spacing:0.1px;">67836.2194 USDT</div>
<div class="inp" style="top:1115px;height:35.5px"></div>
<div class="t" style="top:1127.0px;font-size:14px;color:#474d57;height:14px;line-height:14px;left:544.5px;font-weight:500;">交易额</div>
<div class="t" style="top:1127.0px;font-size:14px;color:#5e6673;height:14px;line-height:14px;font-weight:bold;left:1916px;">USDT</div>
<div class="abs" style="left:534px;top:1181px;width:1475px;height:36px;border-radius:4px;background:#0ecb81;color:#fff;font-weight:bold;font-size:12px;line-height:37px;text-align:center">买入</div>
<div class="panel" style="left:2043.5px;top:73px;width:499.5px;height:1200px"></div>
<div class="t" style="top:86.0px;font-size:14px;color:#000;height:14px;line-height:14px;font-weight:bold;left:2059.5px;">盘口</div>
<div class="abs" style="left:2059px;top:110.5px;width:469px;height:2px;background:#fcc21b"></div>
<div class="t" style="top:138.0px;font-size:12px;color:#1e2329;height:12px;line-height:12px;font-weight:bold;left:2064.5px;">价格</div>
<div class="t" style="top:138.0px;font-size:12px;color:#1e2329;height:12px;line-height:12px;font-weight:bold;right:25px;">数量</div>
<div class="ob g" style="top:159px"><span style="left:21px">66938.8200</span><span style="right:20px">0.0048</span></div>
<div class="ob g" style="top:189px"><span style="left:21px">66938.8200</span><span style="right:20px">0.0038</span></div>
<div class="ob g" style="top:219px"><span style="left:21px">66938.8200</span><span style="right:20px">0.0014</span></div>
<div class="ob g" style="top:249px"><span style="left:21px">66938.8200</span><span style="right:20px">0.0010</span></div>
<div class="ob g" style="top:279px"><span style="left:21px">66938.8200</span><span style="right:20px">0.0007</span></div>
<div class="ob g" style="top:309px"><span style="left:21px">66944.0400</span><span style="right:20px">0.0015</span></div>
<div class="ob g" style="top:339px"><span style="left:21px">66944.0400</span><span style="right:20px">0.0034</span></div>
<div class="ob g" style="top:369px"><span style="left:21px">66947.1800</span><span style="right:20px">0.0051</span></div>
<div class="ob g" style="top:399px"><span style="left:21px">66947.1800</span><span style="right:20px">0.0353</span></div>
<div class="ob g" style="top:429px"><span style="left:21px">66947.1800</span><span style="right:20px">0.0015</span></div>
<div class="t" style="top:464.0px;font-size:18px;color:#0ecb81;height:18px;line-height:18px;left:2069px;">66938.82</div>
<div class="ob r" style="top:499px"><span style="left:21px">66938.8100</span><span style="right:20px">0.0003</span></div>
<div class="ob r" style="top:529px"><span style="left:21px">66938.8100</span><span style="right:20px">0.0012</span></div>
<div class="ob r" style="top:559px"><span style="left:21px">66938.8100</span><span style="right:20px">0.0126</span></div>
<div class="ob r" style="top:589px"><span style="left:21px">66940.0600</span><span style="right:20px">0.0302</span></div>
<div class="ob r" style="top:619px"><span style="left:21px">66940.0600</span><span style="right:20px">0.0105</span></div>
<div class="ob r" style="top:649px"><span style="left:21px">66940.0600</span><span style="right:20px">0.0105</span></div>
<div class="ob r" style="top:679px"><span style="left:21px">66940.0600</span><span style="right:20px">0.0048</span></div>
<div class="ob r" style="top:709px"><span style="left:21px">66944.0300</span><span style="right:20px">0.0934</span></div>
<div class="ob r" style="top:739px"><span style="left:21px">66944.0300</span><span style="right:20px">0.0048</span></div>
<div class="ob r" style="top:769px"><span style="left:21px">66944.0300</span><span style="right:20px">0.0007</span></div>
<div class="abs" style="left:0;top:1273px;width:2543px;height:27px;background:#1b8d5b"></div>
<svg class="abs" style="left:0;top:1273px" width="120" height="27"><path d="M0 8 H96 L58 27 H0Z" fill="#19825a" opacity="0.6"/></svg>
<div class="abs" style="left:2543px;top:0;width:5px;height:1300px;background:#f1f1f1"></div>
<div class="abs" style="left:2545px;top:16px;width:3px;height:834px;background:#c1c1c1"></div>
</body></html>
